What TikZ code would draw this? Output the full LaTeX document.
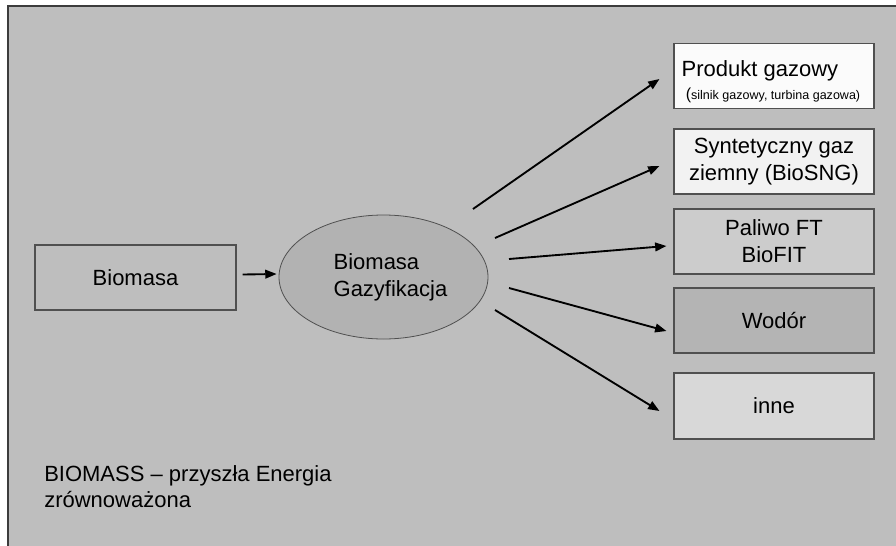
\documentclass[tikz,border=0pt]{standalone}
\usepackage{fontspec}
\setmainfont{Liberation Sans}
\usetikzlibrary{shapes.geometric,arrows.meta,calc}

\definecolor{slide}{RGB}{190,190,190}
\definecolor{frameline}{RGB}{60,60,60}
\definecolor{boxline}{RGB}{80,80,80}
\definecolor{fillA}{RGB}{251,251,251}
\definecolor{fillB}{RGB}{242,242,242}
\definecolor{fillC}{RGB}{204,204,204}
\definecolor{fillD}{RGB}{180,180,180}
\definecolor{fillE}{RGB}{216,216,216}
\definecolor{fillGas}{RGB}{178,178,178}

\newcommand\mainsize{\fontsize{16.5}{20.25}\selectfont}
\newcommand\smallsize{\fontsize{9.4}{11}\selectfont}

\begin{document}
\begin{tikzpicture}[x=0.75pt,y=-0.75pt,
  outbox/.style={draw=boxline, line width=0.8pt, minimum width=150pt,
    minimum height=48.75pt, inner sep=0pt, align=center, font=\mainsize},
  srcbox/.style={outbox, minimum width=150.75pt, fill=slide},
  procell/.style={ellipse, draw=boxline, line width=0.6pt, fill=fillGas,
    minimum width=156.75pt, minimum height=93pt, inner sep=0pt},
  boxtext/.style={inner sep=0pt, anchor=base},
  arr/.style={-{Triangle[length=8.5pt,width=6.5pt]}, line width=1.4pt, black},
  caption/.style={align=left, font=\fontsize{16.5}{19.5}\selectfont, inner sep=0pt, anchor=north west}]

\useasboundingbox (0,0) rectangle (896,546);
\fill[white] (0,0) rectangle (896,546);
\fill[slide] (8,6) rectangle (896,546);
\draw[frameline, line width=1.5pt] (8,546) -- (8,6) -- (896,6);

% source and process
\node[srcbox] (bio) at (135.5,277.5) {Biomasa};
\node[procell] (gas) at (383.5,277) {};
\node[align=left, font=\mainsize, inner sep=0pt] (gastext) at ($(gas.center)+(7,0)$)
  {Biomasa\\Gazyfikacja};

% products
\node[outbox, fill=fillA] (p1) at (774,76) {};
\node[boxtext, font=\mainsize] (p1a) at ($(p1.center)+(-14,0)$) {Produkt gazowy};
\node[boxtext] (p1b) at ($(p1.center)+(-1,23)$)
  {\fontsize{12}{12}\selectfont(\smallsize silnik gazowy, turbina gazowa)};
\node[outbox, fill=fillB] (p2) at (774,161.5) {Syntetyczny gaz\\ziemny (BioSNG)};
\node[outbox, fill=fillC] (p3) at (774,241.5) {Paliwo FT\\BioFIT};
\node[outbox, fill=fillD] (p4) at (774,320.5) {Wodór};
\node[outbox, fill=fillE, minimum height=49.5pt] (p5) at (774,406) {inne};

% connectors
\draw[arr] ($(bio.east)+(6,-3)$) -- ($(gas.west)+(-2,-3)$);

\coordinate (s1) at ($(gas.center)+(89.5,-68)$);
\coordinate (s2) at ($(gas.center)+(111.5,-39)$);
\coordinate (s3) at ($(gas.center)+(125.5,-18)$);
\coordinate (s4) at ($(gas.center)+(125.5,11)$);
\coordinate (s5) at ($(gas.center)+(111.5,33)$);
\coordinate (t1) at ($(p1.west)+(-14,3)$);
\coordinate (t2) at ($(p2.west)+(-14,4.5)$);
\coordinate (t3) at ($(p3.west)+(-7,4.5)$);
\coordinate (t4) at ($(p4.west)+(-7,10.5)$);
\coordinate (t5) at ($(p5.west)+(-14,5)$);
\foreach \i in {1,...,5} \draw[arr] (s\i) -- (t\i);

% caption
\node[caption] (cap) at (44,465) {BIOMASS – przyszła Energia\\zrównoważona};

\end{tikzpicture}
\end{document}
